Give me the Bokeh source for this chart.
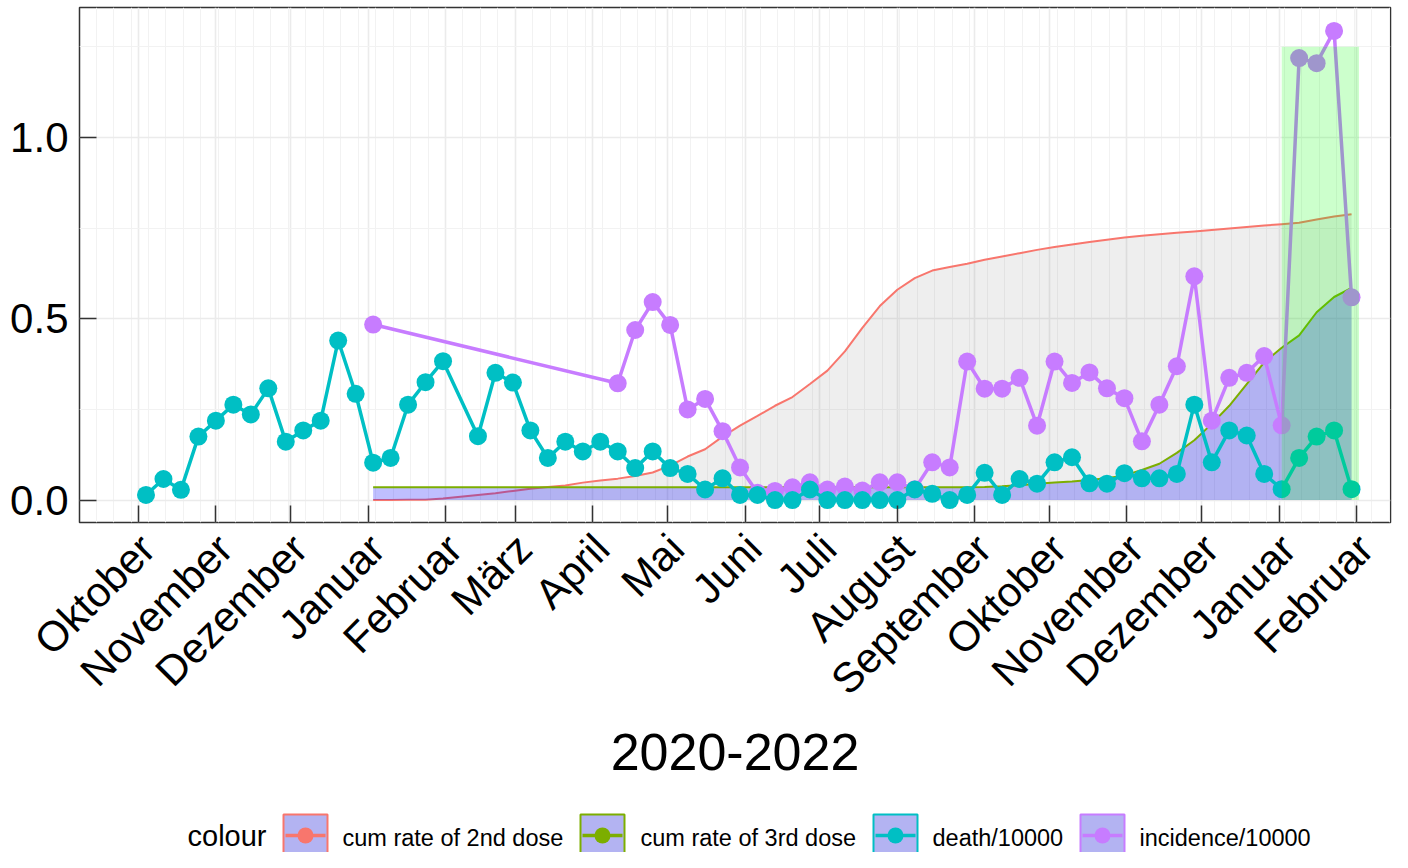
import pandas as pd
from bokeh.plotting import figure
from bokeh.models import (FixedTicker, CustomJSTickFormatter, NumeralTickFormatter, Range1d,
                          DatetimeAxis)
from bokeh.layouts import column
from bokeh.embed import file_html
from bokeh.resources import INLINE
from bokeh.core.properties import value

# ---------------- data ----------------
month_names = ["Januar", "Februar", "März", "April", "Mai", "Juni", "Juli",
               "August", "September", "Oktober", "November", "Dezember"]
month_ticks = pd.date_range("2020-10-01", "2022-02-01", freq="MS")
week_grid = pd.date_range("2020-09-07", "2022-02-28", freq="7D")

weeks = pd.date_range("2020-10-04", periods=70, freq="7D")

death = [0.014, 0.058, 0.028, 0.175, 0.219, 0.263, 0.236, 0.308, 0.161, 0.192,
         0.219, 0.440, 0.293, 0.103, 0.116, 0.263, 0.325, 0.383, None, 0.176,
         0.351, 0.324, 0.192, 0.116, 0.161, 0.134, 0.161, 0.134, 0.088, 0.134,
         0.088, 0.072, 0.029, 0.060, 0.014, 0.014, 0.000, 0.000, 0.029, 0.000,
         0.000, 0.000, 0.000, 0.000, 0.029, 0.017, 0.000, 0.014, 0.075, 0.014,
         0.058, 0.045, 0.104, 0.118, 0.046, 0.045, 0.074, 0.060, 0.060, 0.072,
         0.263, 0.104, 0.192, 0.178, 0.072, 0.030, 0.116, 0.175, 0.192, 0.030]

incidence = [None, None, None, None, None, None, None, None, None, None,
             None, None, None, 0.484, None, None, None, None, None, None,
             None, None, None, None, None, None, None, 0.322, 0.469, 0.546,
             0.483, 0.250, 0.279, 0.190, 0.090, 0.020, 0.025, 0.035, 0.049, 0.029,
             0.037, 0.026, 0.049, 0.049, 0.030, 0.104, 0.090, 0.382, 0.307, 0.307,
             0.337, 0.205, 0.382, 0.323, 0.352, 0.308, 0.281, 0.162, 0.263, 0.369,
             0.617, 0.219, 0.337, 0.351, 0.397, 0.206, 1.219, 1.205, 1.294, 0.559]

# vaccination series start with week 13 (2021-01-03)
cum2 = [0.000, 0.000, 0.001, 0.001, 0.004, 0.009, 0.014, 0.019, 0.025, 0.031,
        0.036, 0.040, 0.048, 0.054, 0.059, 0.066, 0.076, 0.095, 0.120, 0.140,
        0.175, 0.205, 0.232, 0.260, 0.284, 0.320, 0.357, 0.410, 0.475, 0.535,
        0.580, 0.612, 0.633, 0.643, 0.652, 0.663, 0.672, 0.681, 0.690, 0.698,
        0.705, 0.712, 0.718, 0.724, 0.729, 0.733, 0.737, 0.741, 0.745, 0.749,
        0.753, 0.757, 0.761, 0.765, 0.774, 0.782, 0.788]
cum3 = [0.035, 0.035, 0.035, 0.035, 0.035, 0.035, 0.035, 0.035, 0.035, 0.035,
        0.035, 0.035, 0.035, 0.035, 0.035, 0.035, 0.035, 0.035, 0.035, 0.035,
        0.035, 0.035, 0.035, 0.035, 0.035, 0.035, 0.035, 0.035, 0.035, 0.035,
        0.035, 0.035, 0.035, 0.035, 0.035, 0.036, 0.038, 0.041, 0.045, 0.048,
        0.051, 0.055, 0.060, 0.068, 0.083, 0.100, 0.130, 0.165, 0.210, 0.260,
        0.320, 0.380, 0.420, 0.454, 0.518, 0.560, 0.585]
vacc_weeks = weeks[13:]

highlight = dict(start="2022-01-02", end="2022-02-02", top=1.25)

series_names = ["cum rate of 2nd dose", "cum rate of 3rd dose", "death/10000", "incidence/10000"]
series_colors = ["#F8766D", "#7CAE00", "#00BFC4", "#C77CFF"]

FONT = "Liberation Sans"

# ---------------- main figure ----------------
W, H_MAIN, H_LEG = 1392, 800, 52
origin = pd.Timestamp("2020-10-01")
x0 = origin - pd.Timedelta(days=23.64)
x1 = origin + pd.Timedelta(days=501.6)

p = figure(width=W, height=H_MAIN, x_axis_type="datetime",
           x_range=Range1d(x0, x1), y_range=Range1d(-0.062, 1.3586),
           toolbar_location=None, output_backend="svg", title=None,
           min_border_left=79, min_border_right=2, min_border_top=7,
           min_border_bottom=H_MAIN - 522)
p.background_fill_color = "white"
p.border_fill_color = "white"
p.outline_line_color = "#333333"
p.outline_line_width = 1.5


def ms(ts):
    return pd.Timestamp(ts).value // 10**6


month_fmt = CustomJSTickFormatter(args=dict(names=month_names),
                                  code="return names[new Date(tick).getUTCMonth()];")

# axis carrying the inward tick marks (and grid positions); its labels are not drawn
tick_ax = p.xaxis[0]
tick_ax.ticker = FixedTicker(ticks=[ms(t) for t in month_ticks],
                             minor_ticks=[ms(t) for t in week_grid])
tick_ax.formatter = month_fmt
tick_ax.major_label_text_font_size = "1px"
tick_ax.major_label_text_color = None
tick_ax.major_label_standoff = 0

p.yaxis.ticker = FixedTicker(ticks=[0, 0.5, 1.0], minor_ticks=[0.25, 0.75, 1.25])
p.yaxis.formatter = NumeralTickFormatter(format="0.0")

for ax in (tick_ax, p.yaxis[0]):
    ax.axis_line_color = None
    ax.major_tick_in = 17
    ax.major_tick_out = 0
    ax.major_tick_line_color = "#333333"
    ax.major_tick_line_width = 1.5
    ax.minor_tick_line_color = None

p.yaxis.major_label_text_font = FONT
p.yaxis.major_label_text_color = "black"
p.yaxis.major_label_standoff = 7
p.yaxis.major_label_text_font_size = "42px"

# axis carrying the rotated month names (anchored like hjust=1, vjust=1)
label_ax = DatetimeAxis(ticker=FixedTicker(ticks=[ms(t) + int(3.6 * 86400000) for t in month_ticks]),
                        formatter=month_fmt)
label_ax.axis_line_color = None
label_ax.major_tick_line_color = None
label_ax.minor_tick_line_color = None
label_ax.major_tick_in = 0
label_ax.major_tick_out = 0
label_ax.major_label_orientation = 0.785398
label_ax.major_label_text_font = FONT
label_ax.major_label_text_font_size = "42px"
label_ax.major_label_text_color = "black"
label_ax.major_label_standoff = 15
label_ax.axis_label = "2020-2022"
label_ax.axis_label_text_font = FONT
label_ax.axis_label_text_font_size = "52px"
label_ax.axis_label_text_font_style = "normal"
label_ax.axis_label_text_color = "black"
label_ax.axis_label_standoff = 11
p.add_layout(label_ax, "below")

for g in (p.xgrid[0], p.ygrid[0]):
    g.grid_line_color = "#EBEBEB"
    g.grid_line_width = 1.6
    g.minor_grid_line_color = "#F2F2F2"
    g.minor_grid_line_width = 1.0

# areas and vaccination lines
p.varea(x=vacc_weeks, y1=0, y2=cum2, fill_color="#7F7F7F", fill_alpha=0.13)
p.line(vacc_weeks, cum2, line_color=series_colors[0], line_width=2)
p.varea(x=vacc_weeks, y1=0, y2=cum3, fill_color="#0000FF", fill_alpha=0.25)
p.line(vacc_weeks, cum3, line_color=series_colors[1], line_width=2)

# incidence
inc_x = [w for w, v in zip(weeks, incidence) if v is not None]
inc_y = [v for v in incidence if v is not None]
p.line(inc_x, inc_y, line_color=series_colors[3], line_width=3.5)
p.scatter(inc_x, inc_y, size=18, fill_color=series_colors[3], line_color=None)

# death
d_x = [w for w, v in zip(weeks, death) if v is not None]
d_y = [v for v in death if v is not None]
p.line(d_x, d_y, line_color=series_colors[2], line_width=3.5)
p.scatter(d_x, d_y, size=18, fill_color=series_colors[2], line_color=None)

# highlighted period
p.quad(left=[pd.Timestamp(highlight["start"])], right=[pd.Timestamp(highlight["end"])],
       bottom=[0], top=[highlight["top"]], fill_color="#00FF00", fill_alpha=0.2,
       line_color=None)

# ---------------- legend strip ----------------
leg = figure(width=W, height=H_LEG, x_range=Range1d(79, W - 2),
             y_range=Range1d(H_MAIN + H_LEG, H_MAIN),
             toolbar_location=None, output_backend="svg", title=None,
             x_axis_location=None, y_axis_location=None,
             min_border_left=79, min_border_right=2,
             min_border_top=0, min_border_bottom=0)
leg.grid.visible = False
leg.outline_line_color = None
leg.background_fill_color = "white"
leg.border_fill_color = "white"

key_left = [283, 580, 873, 1080]
label_left = [342, 640, 932, 1139]
key_w, key_top, key_bot, key_mid = 44, 814, 856, 835
leg.quad(left=key_left, right=[k + key_w for k in key_left], top=key_top, bottom=key_bot,
         fill_color="#B3B3F2", line_color=series_colors, line_width=2)
leg.segment(x0=[k + 2 for k in key_left], x1=[k + key_w - 2 for k in key_left],
            y0=key_mid, y1=key_mid, line_color=series_colors, line_width=3.5)
leg.scatter(x=[k + key_w / 2 for k in key_left], y=[key_mid] * 4, size=16,
            fill_color=series_colors, line_color=None)
leg.text(x=label_left, y=[837] * 4, text=series_names, text_font=value(FONT),
         text_font_size="23.5px", text_baseline="middle", text_align="left", text_color="black")
leg.text(x=[187], y=[835], text=["colour"], text_font=value(FONT),
         text_font_size="29px", text_baseline="middle", text_align="left", text_color="black")

layout = column(p, leg, spacing=0)
open("out.html", "w").write(file_html(layout, INLINE))
